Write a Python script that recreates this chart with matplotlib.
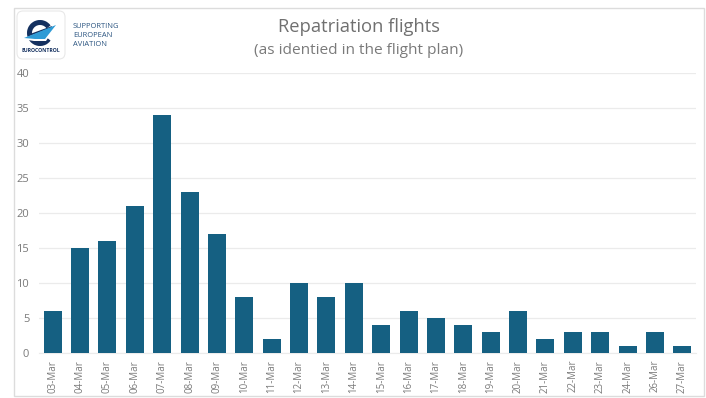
# -*- coding: utf-8 -*-
# Repatriation flights per day, bar chart with the EUROCONTROL logo block.

import matplotlib
matplotlib.use("Agg")
import matplotlib.pyplot as plt
from matplotlib.patches import Arc, FancyBboxPatch, Polygon, Rectangle

W, H = 706, 398

DAYS = ["03-Mar", "04-Mar", "05-Mar", "06-Mar", "07-Mar", "08-Mar", "09-Mar", "10-Mar",
        "11-Mar", "12-Mar", "13-Mar", "14-Mar", "15-Mar", "16-Mar", "17-Mar", "18-Mar",
        "19-Mar", "20-Mar", "21-Mar", "22-Mar", "23-Mar", "24-Mar", "26-Mar", "27-Mar"]
FLIGHTS = [6, 15, 16, 21, 34, 23, 17, 8, 2, 10, 8, 10, 4, 6, 5, 4, 3, 6, 2, 3, 3, 1, 3, 1]
Y_TICKS = [0, 5, 10, 15, 20, 25, 30, 35, 40]

TITLE = "Repatriation flights"
SUBTITLE = "(as identied in the flight plan)"
TAGLINE = ["SUPPORTING", "EUROPEAN", "AVIATION"]

BAR_COLOR = "#156082"
GRID_COLOR = "#EBEBEB"
TEXT_COLOR = "#7A7A7A"
NAVY = "#14305F"
SKY = "#2E9BD6"

plt.rcParams["font.family"] = ["Open Sans", "DejaVu Sans"]


def px_axes(fig, left, top, right, bottom):
    # axes placed from pixel edges, y measured from the top of the figure
    return fig.add_axes([left / W, 1 - bottom / H, (right - left) / W, (bottom - top) / H])


def draw_logo(fig):
    # overlay in pixel coordinates
    ov = fig.add_axes([0, 0, 1, 1], zorder=5)
    ov.set_xlim(0, W)
    ov.set_ylim(H, 0)
    ov.axis("off")

    ov.add_patch(Rectangle((13.5, 7.5), 690.5, 388, fill=False, ec="#DCDCDC", lw=1))
    ov.add_patch(FancyBboxPatch((20, 14), 42, 42, boxstyle="round,pad=3,rounding_size=6",
                                fc="white", ec="#E8E8E8", lw=0.8))

    # the "e" ring, open on the right, crossbar and wing through the middle
    ov.add_patch(Arc((40, 33), 21, 21, theta1=35, theta2=325, ec=NAVY, lw=3.6))
    ov.add_patch(Polygon([[30, 34], [52, 26], [50, 32], [32, 36]], fc=NAVY, ec="none"))
    ov.add_patch(Polygon([[22, 39], [56, 26], [46, 41], [34, 41]], fc="white", ec="none"))
    ov.add_patch(Polygon([[24, 38], [56, 25], [45, 39], [35, 39]], fc=SKY, ec="none"))
    ov.text(41, 50, "EUROCONTROL", fontsize=3.7, fontweight="bold", color=NAVY,
            ha="center", va="center")

    for i, line in enumerate(TAGLINE):
        ov.text(73, 26 + i * 9.2, line, fontsize=5.4, color="#2A5480", ha="left", va="center")

    ov.text(358.5, 27, TITLE, fontsize=13.2, color="#707070", ha="center", va="center")
    ov.text(359, 50.5, SUBTITLE, fontsize=11.1, color="#7A7A7A", ha="center", va="center")


def main():
    fig = plt.figure(figsize=(W / 100, H / 100), dpi=100, facecolor="white")
    ax = px_axes(fig, 39, 73, 696, 353)

    x = list(range(len(DAYS)))
    ax.bar(x, FLIGHTS, width=0.66, color=BAR_COLOR, zorder=3)

    ax.set_xlim(-0.5, len(DAYS) - 0.5)
    ax.set_ylim(0, 40)
    ax.set_yticks(Y_TICKS)
    ax.set_xticks(x)
    ax.set_xticklabels(DAYS, rotation=90, fontsize=7, color=TEXT_COLOR)
    ax.tick_params(axis="y", labelsize=8, labelcolor=TEXT_COLOR, length=0, pad=7)
    ax.tick_params(axis="x", length=0, pad=5)
    ax.yaxis.grid(True, color=GRID_COLOR, lw=0.9, zorder=0)
    ax.set_axisbelow(True)
    for side in ax.spines:
        ax.spines[side].set_visible(False)
    ax.spines["bottom"].set_visible(True)
    ax.spines["bottom"].set_color(GRID_COLOR)

    draw_logo(fig)
    fig.savefig("out.png", dpi=100)


if __name__ == "__main__":
    main()
